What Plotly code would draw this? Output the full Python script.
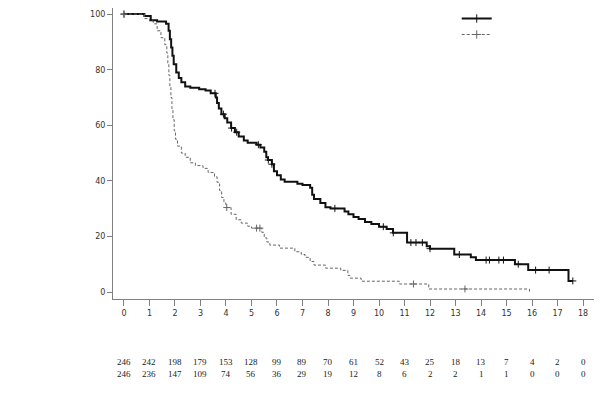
import numpy as np
import plotly.graph_objects as go

# ---- data ----
grp1_t = [0, 0.8, 1.05, 1.3, 1.65, 1.75, 1.8, 1.85, 1.9, 1.95, 2.05, 2.15, 2.25, 2.4, 2.6, 2.95,
          3.2, 3.4, 3.6, 3.65, 3.72, 3.82, 3.95, 4.05, 4.2, 4.35, 4.5, 4.7, 4.85, 5.2, 5.35, 5.5,
          5.58, 5.65, 5.8, 5.88, 6.0, 6.15, 6.3, 6.8, 7.0, 7.3, 7.38, 7.45, 7.7, 7.9, 8.1, 8.65,
          8.8, 9.0, 9.2, 9.45, 9.7, 10.0, 10.3, 10.55, 11.1, 11.87, 12.0, 12.95, 13.6, 13.8,
          15.33, 15.85, 17.43, 17.6]
grp1_s = [100, 99.3, 97.8, 97.3, 96.5, 94, 91, 88, 85, 82, 79, 77, 75.5, 74, 73.5, 73,
          72.5, 71.5, 70, 68, 66, 64, 62.5, 61, 59, 57.5, 56, 54.5, 53.7, 53, 52, 50.5,
          48.5, 47.5, 46, 43.5, 42, 40.5, 39.7, 39, 38.5, 37.5, 35, 33.5, 32, 30.5, 30.1, 29,
          28, 27, 26.3, 25.2, 24.5, 23.5, 22.7, 21.3, 17.8, 16.5, 15.6, 13.5, 12.5, 11.5,
          10, 7.9, 4, 4]
grp1_cens = [0, 3.57, 3.9, 4.22, 4.42, 5.27, 5.66, 5.8, 8.27, 10.17, 10.56, 11.25, 11.45, 11.7,
             12.0, 13.15, 14.2, 14.33, 14.7, 14.88, 15.46, 16.14, 16.67, 17.6]

grp2_t = [0, 0.8, 1.0, 1.15, 1.3, 1.45, 1.6, 1.68, 1.72, 1.76, 1.8, 1.84, 1.88, 1.92, 1.97,
          2.02, 2.1, 2.25, 2.4, 2.6, 2.8, 3.1, 3.3, 3.55, 3.65, 3.75, 3.83, 3.92, 4.0, 4.2,
          4.4, 4.6, 4.85, 5.0, 5.4, 5.5, 5.6, 5.72, 6.1, 6.7, 6.95, 7.1, 7.3, 7.45, 7.9, 8.5,
          8.78, 8.86, 9.3, 10.8, 11.95, 15.9]
grp2_s = [100, 98.4, 97.5, 96.5, 94, 91.5, 89, 86, 82, 78, 74, 70, 66, 62, 58,
          55, 52.5, 50, 48.5, 46.5, 45.5, 44.5, 43, 41.5, 39.5, 36.5, 34, 32, 30.4, 28,
          26, 24.8, 23.7, 23, 21.5, 19.5, 18, 16.9, 15.8, 14.5, 13.5, 12.5, 11, 9.7, 8.6, 7.8,
          6, 5, 3.9, 2.9, 1.1, 0]
grp2_cens = [0, 4.03, 5.2, 5.33, 11.35, 13.37]

risk_times = list(range(0, 19))
risk_grp1 = [246, 242, 198, 179, 153, 128, 99, 89, 70, 61, 52, 43, 25, 18, 13, 7, 4, 2, 0]
risk_grp2 = [246, 236, 147, 109, 74, 56, 36, 29, 19, 12, 8, 6, 2, 2, 1, 1, 0, 0, 0]

x_ticks = list(range(0, 19))
y_ticks = [0, 20, 40, 60, 80, 100]


def step_at(times, surv, q):
    idx = np.searchsorted(np.array(times), np.array(q), side="right") - 1
    return list(np.array(surv)[np.clip(idx, 0, len(surv) - 1)])


fig = go.Figure()
styles = [
    (grp1_t, grp1_s, grp1_cens, dict(color="#111111", width=2, dash="solid"), "legend"),
    (grp2_t, grp2_s, grp2_cens, dict(color="#666666", width=1, dash="3px,2px"), "legend2"),
]
for t, s, c, ln, lg in styles:
    fig.add_trace(go.Scatter(x=t, y=s, mode="lines", line=dict(shape="hv", **ln),
                             showlegend=False, hoverinfo="skip"))
    fig.add_trace(go.Scatter(x=c, y=step_at(t, s, c), mode="markers",
                             marker=dict(symbol="cross-thin", size=5,
                                         line=dict(color=ln["color"], width=1)),
                             showlegend=False, hoverinfo="skip"))
# legend entries (no labels in the original)
for t, s, c, ln, lg in styles:
    fig.add_trace(go.Scatter(x=[None], y=[None], mode="lines+markers", name=" ",
                             legend=lg, line=dict(**ln),
                             marker=dict(symbol="cross-thin", size=6,
                                         line=dict(color=ln["color"], width=1))))

ann = []
for i, tt in enumerate(risk_times):
    ann.append(dict(x=tt, y=-0.2165, xref="x", yref="paper", text=str(risk_grp1[i]),
                    showarrow=False, yanchor="middle",
                    font=dict(family="Liberation Serif", size=9, color="#222")))
    ann.append(dict(x=tt, y=-0.259, xref="x", yref="paper", text=str(risk_grp2[i]),
                    showarrow=False, yanchor="middle",
                    font=dict(family="Liberation Serif", size=9, color="#222")))

leg_common = dict(xanchor="left", yanchor="top", bgcolor="rgba(0,0,0,0)", font=dict(size=6))
fig.update_layout(
    width=597, height=386,
    margin=dict(l=105, r=11, t=0, b=95, autoexpand=False),
    plot_bgcolor="white", paper_bgcolor="white",
    annotations=ann,
    legend=dict(x=0.7146, y=1.0137, **leg_common),
    legend2=dict(x=0.7146, y=0.9588, **leg_common),
    xaxis=dict(range=[-0.43, 18.43], tickvals=x_ticks, ticktext=[str(v) for v in x_ticks],
               showgrid=False, zeroline=False, showline=True, linecolor="#808080",
               linewidth=1, ticks="outside", ticklen=6, tickcolor="#808080",
               tickfont=dict(family="DejaVu Sans", size=8, color="#333")),
    yaxis=dict(range=[-2.5, 102.2], tickvals=y_ticks, ticktext=[str(v) for v in y_ticks],
               showgrid=False, zeroline=False, showline=True, linecolor="#808080",
               linewidth=1, ticks="outside", ticklen=5, tickcolor="#808080",
               tickfont=dict(family="DejaVu Sans", size=8, color="#333")),
)
fig.write_html("out.html")
